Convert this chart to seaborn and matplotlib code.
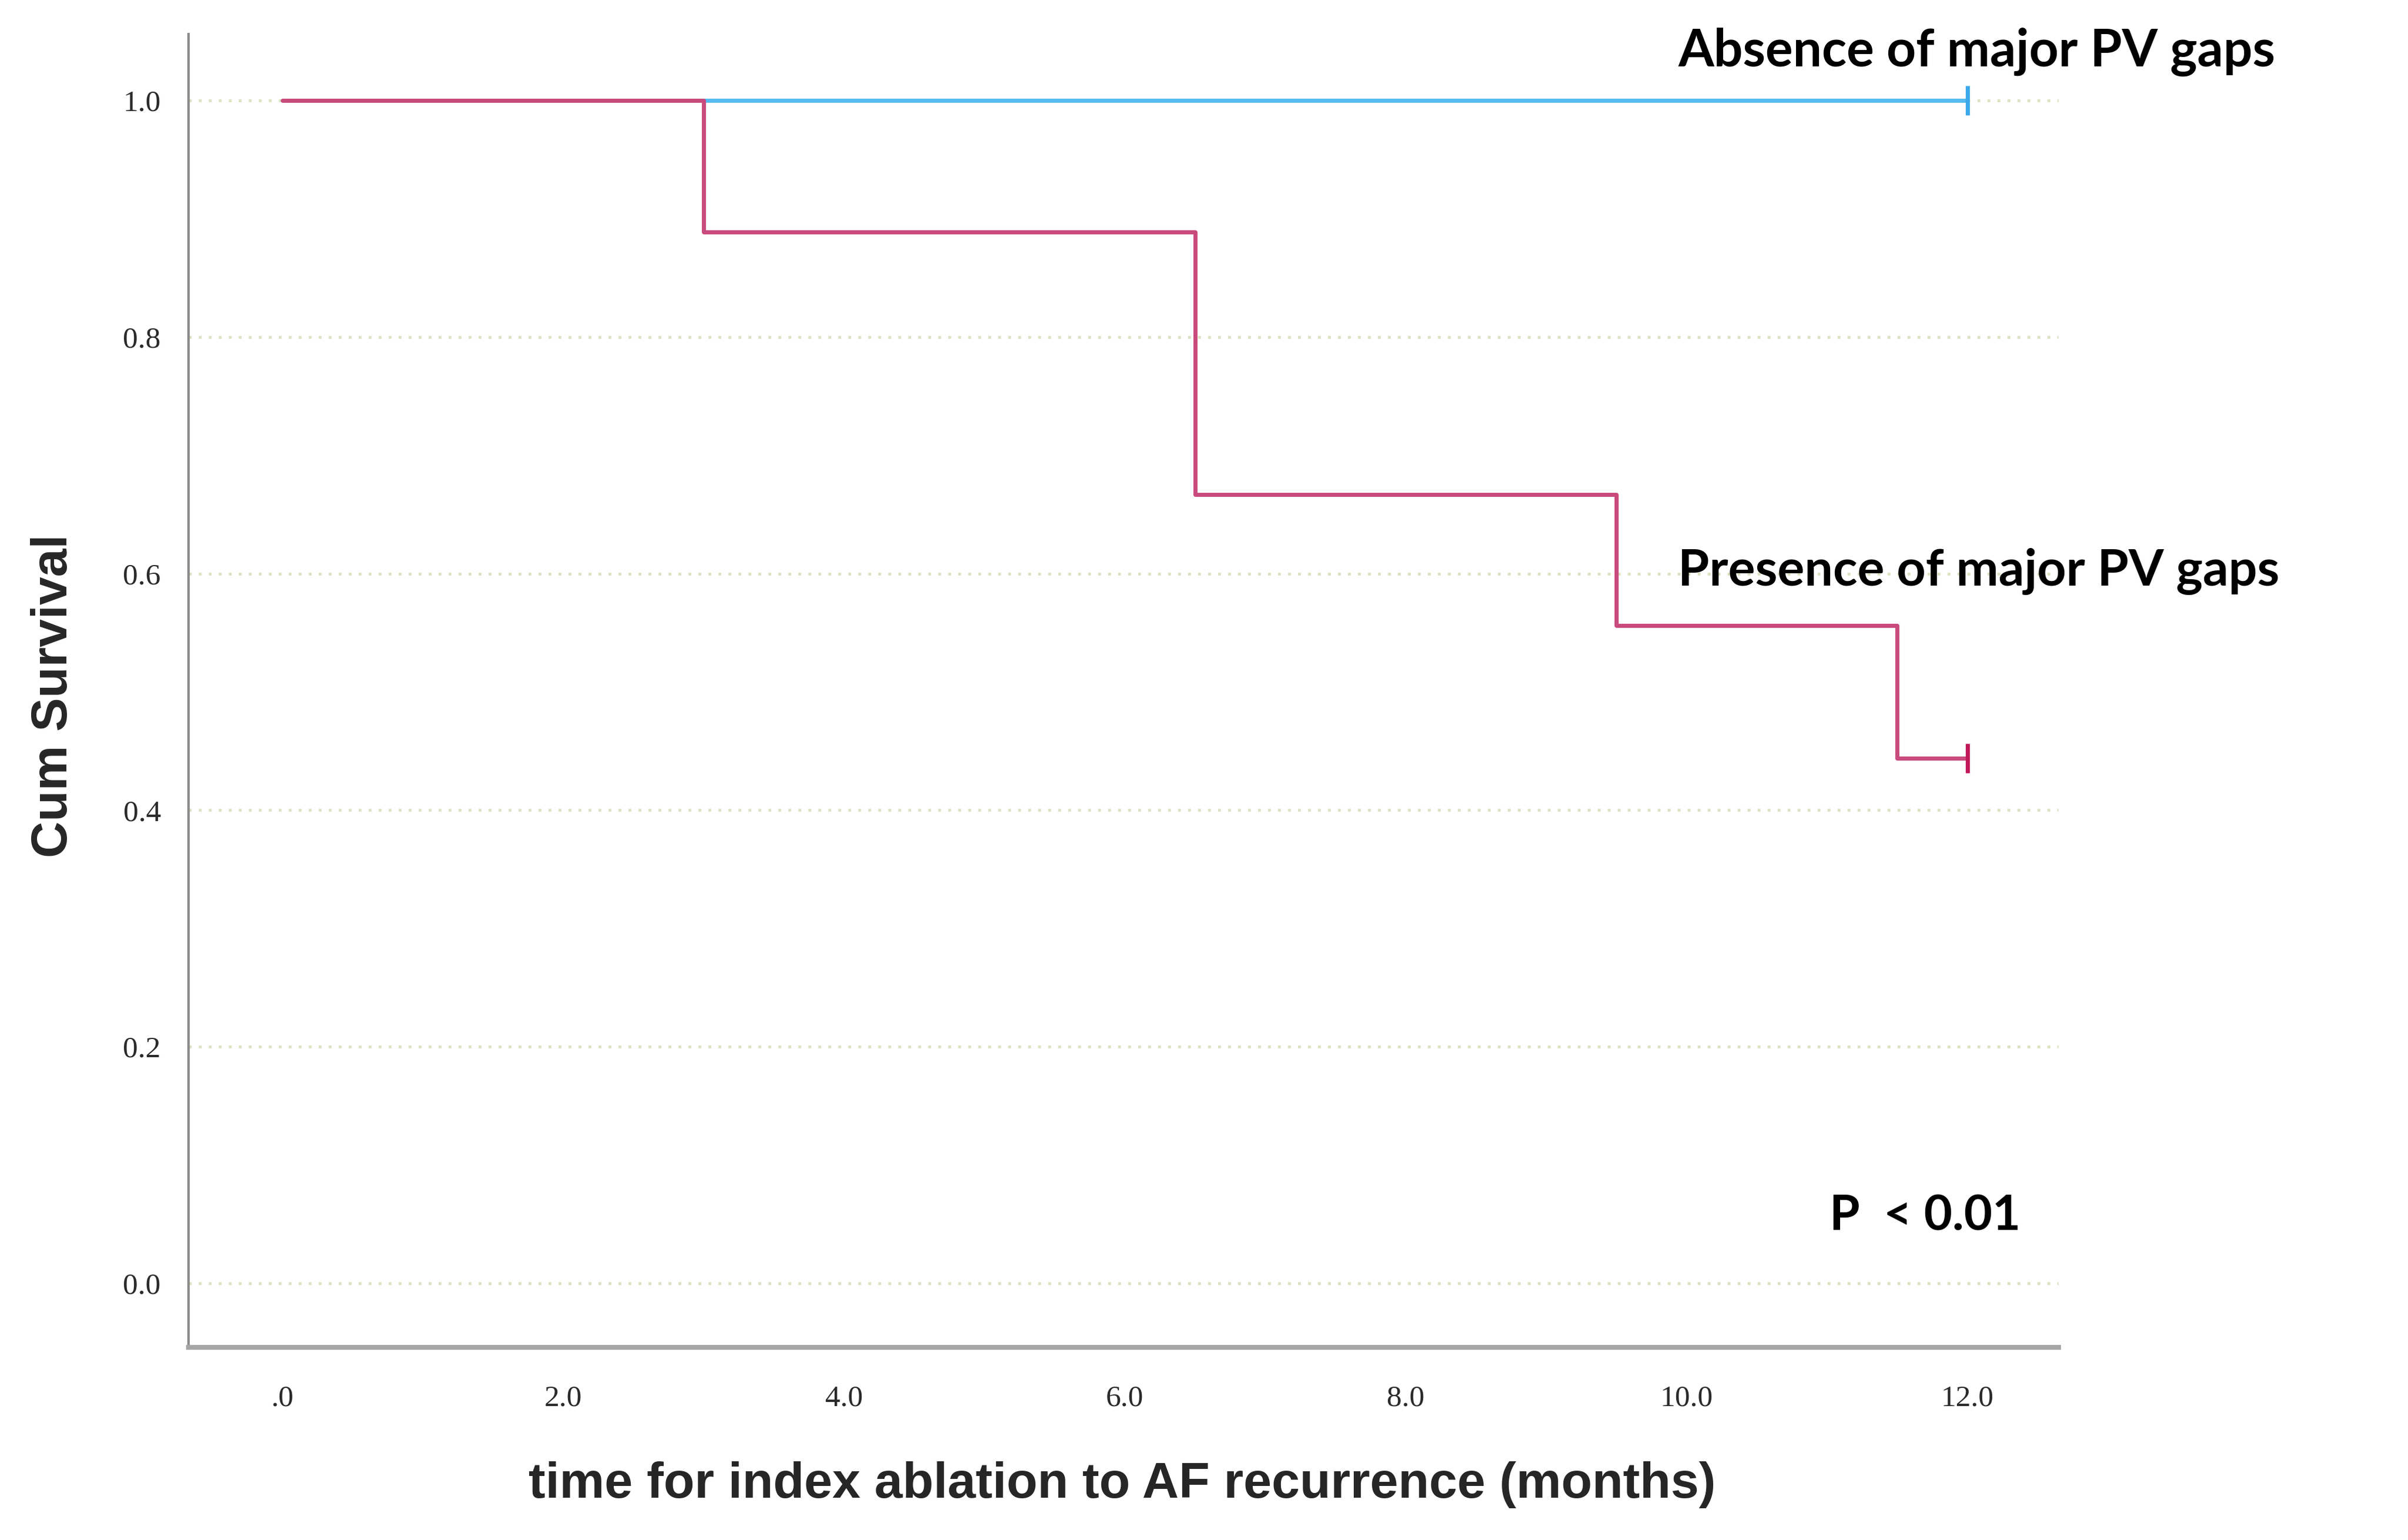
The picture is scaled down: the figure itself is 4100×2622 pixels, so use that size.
import numpy as np
import pandas as pd
import matplotlib
matplotlib.use("Agg")
import matplotlib.pyplot as plt
import seaborn as sns

# Kaplan-Meier steps
gap_times = [0, 3.0, 6.5, 9.5, 11.5, 12.0]
gap_surv = [1.0, 0.889, 0.667, 0.556, 0.444, 0.444]
nogap_times = [0, 12.0]
nogap_surv = [1.0, 1.0]

x_ticks = [0, 2, 4, 6, 8, 10, 12]
x_ticklabels = [".0", "2.0", "4.0", "6.0", "8.0", "10.0", "12.0"]
y_ticks = [0.0, 0.2, 0.4, 0.6, 0.8, 1.0]
y_ticklabels = ["0.0", "0.2", "0.4", "0.6", "0.8", "1.0"]

label_gap = "Presence of major PV gaps"
label_nogap = "Absence of major PV gaps"

red = "#c94a7c"
blue = "#55bbf0"

df = pd.concat([
    pd.DataFrame({"time": nogap_times, "surv": nogap_surv, "group": label_nogap}),
    pd.DataFrame({"time": gap_times, "surv": gap_surv, "group": label_gap}),
], ignore_index=True)

# censored at the end of follow-up
cens = df.groupby("group", sort=False).tail(1)

sns.set_style("white")
plt.rcParams["font.family"] = ["Liberation Sans", "DejaVu Sans"]

fig = plt.figure(figsize=(41, 26.22), dpi=100)
ax = fig.add_axes([321 / 4100, 1 - 2294 / 2622, (3505 - 321) / 4100, (2294 - 58) / 2622])

sns.lineplot(data=df, x="time", y="surv", hue="group", palette={label_nogap: blue, label_gap: red},
             estimator=None, drawstyle="steps-post", linewidth=5, legend=False, ax=ax)
sns.scatterplot(data=cens, x="time", y="surv", hue="group", palette={label_nogap: "#3aa8ea", label_gap: "#c01858"},
                marker="|", s=1300, linewidth=5, legend=False, ax=ax, zorder=5)

ax.set_xlim(-0.669, 12.65)
ax.set_ylim(-0.0541, 1.0561)
ax.set_xticks(x_ticks)
ax.set_xticklabels(x_ticklabels, fontfamily="Liberation Serif", fontsize=37, color="#2a2a2a")
ax.set_yticks(y_ticks)
ax.set_yticklabels(y_ticklabels, fontfamily="Liberation Serif", fontsize=37, color="#2a2a2a")
ax.tick_params(axis="x", length=0, pad=46)
ax.tick_params(axis="y", length=0, pad=34)
ax.set_xlabel("")
ax.set_ylabel("")

ax.grid(axis="y", linestyle=(0, (1, 2.5)), color="#dde2c2", linewidth=3.5)
ax.grid(axis="x", visible=False)
for s in ["top", "right"]:
    ax.spines[s].set_visible(False)
ax.spines["left"].set_color("#8c8c8c")
ax.spines["left"].set_linewidth(3)
ax.spines["bottom"].set_color("#a6a6a6")
ax.spines["bottom"].set_linewidth(6)

ax.text(9.94, 1.041, label_nogap, fontfamily="Lato", fontweight="bold", fontsize=63, va="center", ha="left",
        color="black")
ax.text(9.94, 0.602, label_gap, fontfamily="Lato", fontweight="bold", fontsize=62, va="center", ha="left",
        color="black")
ax.text(11.02, 0.0566, "P  < 0.01", fontfamily="Lato", fontweight="bold", fontsize=60, va="center", ha="left",
        color="black")

fig.text(92 / 4100, 1 - 1185 / 2622, "Cum Survival", rotation=90, ha="center", va="center",
         fontsize=62, fontweight="bold")
fig.text(1911 / 4100, 1 - 2528 / 2622, "time for index ablation to AF recurrence (months)",
         ha="center", va="center", fontsize=62, fontweight="bold")

fig.savefig("out.png", dpi=100, facecolor="white")
